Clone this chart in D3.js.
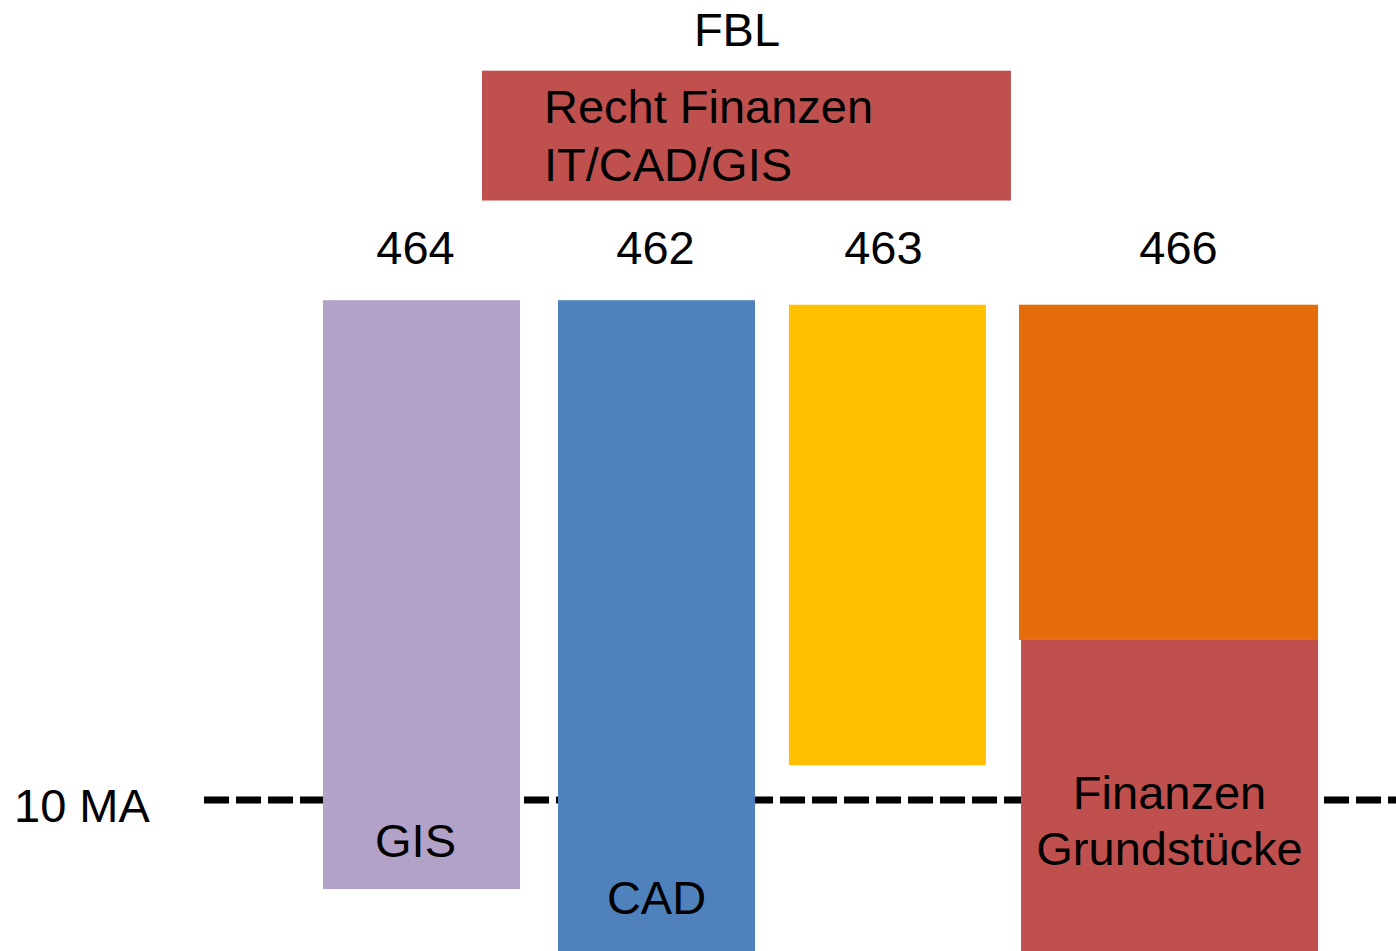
<!DOCTYPE html>
<html>
<head>
<meta charset="utf-8">
<script src="https://cdn.jsdelivr.net/npm/d3@7"></script>
<style>
  html, body { margin: 0; padding: 0; background: #fff; }
  svg text { font-family: "Liberation Sans", Arial, sans-serif; fill: #000; }
</style>
</head>
<body>
<div class="chart"></div>
<script>
// ------------------------------------------------------------------
// Data
var units      = ["464", "462", "463", "466"];
var unitStart  = [0, 1.193, 2.365, 3.533];      // column start (slot units)
var unitSpan   = [1, 1, 1, 1.518];               // column width (slot units)
var unitLow    = [4.1, 0, 12.3, 20.6];           // bottom value (MA scale)
var unitHigh   = [43.1, 43.1, 42.8, 42.8];       // top value
var unitColor  = ["#B3A2C7", "#4F81BD", "#FFC000", "#E46C0A"];
var unitLabel  = ["GIS", "CAD", "", ""];

// sub block inside 466
var subUnit    = "466";
var subLow     = 0;
var subHigh    = 20.6;
var subLines   = ["Finanzen", "Grundstücke"];

// head box
var headTitle  = "FBL";
var headStart  = 0.807;
var headEnd    = 3.492;
var headLow    = 49.7;
var headHigh   = 58.3;
var headLines  = ["Recht Finanzen", "IT/CAD/GIS"];

var refValue   = 10;
var refLabel   = "10 MA";

// ------------------------------------------------------------------
var width = 1396, height = 951;
var fs = 47;
var nudge = [-6, -1, -4, 10];   // small shifts of the number labels
var labelShift = [-6, 0];       // small shifts of GIS / CAD

var svg = d3.select(".chart").append("svg")
  .attr("width", width)
  .attr("height", height);

var x = d3.scaleLinear().domain([0, 1]).range([323, 520]);
var y = d3.scaleLinear().domain([0, 10]).range([951, 800]);

// reference line (behind bars)
svg.append("line")
  .attr("x1", x(-0.604))
  .attr("x2", width)
  .attr("y1", y(refValue))
  .attr("y2", y(refValue))
  .attr("stroke", "#000")
  .attr("stroke-width", 7)
  .attr("stroke-dasharray", "25,7");

svg.append("text")
  .attr("x", 14)
  .attr("y", y(refValue) + 22)
  .attr("font-size", fs)
  .text(refLabel);

// columns
for (var i = 0; i < units.length; i++)
{
  var x0 = x(unitStart[i]), x1 = x(unitStart[i] + unitSpan[i]);
  svg.append("rect")
    .attr("x", x0)
    .attr("y", y(unitHigh[i]))
    .attr("width", x1 - x0)
    .attr("height", y(unitLow[i]) - y(unitHigh[i]))
    .attr("fill", unitColor[i]);

  svg.append("text")
    .attr("x", (x0 + x1) / 2 + nudge[i])
    .attr("y", y(d3.max(unitHigh)) - 36)
    .attr("text-anchor", "middle")
    .attr("font-size", fs)
    .text(units[i]);

  if (unitLabel[i] != "")
  {
    svg.append("text")
      .attr("x", (x0 + x1) / 2 + labelShift[i])
      .attr("y", y(unitLow[i]) - 32 - (unitLow[i] == 0 ? 5 : 0))
      .attr("text-anchor", "middle")
      .attr("font-size", fs)
      .text(unitLabel[i]);
  }
}

// sub block of 466
var k = units.indexOf(subUnit);
var sx0 = x(unitStart[k]) + 2, sx1 = x(unitStart[k] + unitSpan[k]);
svg.append("rect")
  .attr("x", sx0)
  .attr("y", y(subHigh))
  .attr("width", sx1 - sx0)
  .attr("height", y(subLow) - y(subHigh))
  .attr("fill", "#C0504D");

subLines.forEach(function(t, j) {
  svg.append("text")
    .attr("x", (sx0 + sx1) / 2)
    .attr("y", 809 + j * 56)
    .attr("text-anchor", "middle")
    .attr("font-size", fs)
    .text(t);
});

// head box
svg.append("rect")
  .attr("x", x(headStart))
  .attr("y", y(headHigh))
  .attr("width", x(headEnd) - x(headStart))
  .attr("height", y(headLow) - y(headHigh))
  .attr("fill", "#C0504D");

svg.append("text")
  .attr("x", 737)
  .attr("y", y(headHigh) - 25)
  .attr("text-anchor", "middle")
  .attr("font-size", fs)
  .text(headTitle);

headLines.forEach(function(t, j) {
  svg.append("text")
    .attr("x", x(headStart) + 62)
    .attr("y", y(headHigh) + 52 + j * 58)
    .attr("font-size", fs)
    .text(t);
});
</script>
</body>
</html>
